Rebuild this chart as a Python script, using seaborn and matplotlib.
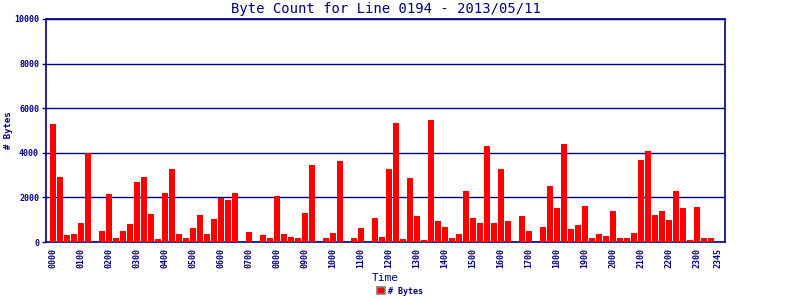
import matplotlib
matplotlib.use("Agg")
import matplotlib.pyplot as plt
import seaborn as sns
import pandas as pd
from matplotlib.patches import Patch

times = [f"{h:02d}{m:02d}" for h in range(24) for m in (0, 15, 30, 45)]
byte_counts = [
    5280, 2895, 330, 375, 870, 4005, 0, 510, 2175, 195, 510, 825, 2715, 2895, 1275, 150,
    2220, 3255, 375, 195, 645, 1230, 375, 1050, 1995, 1905, 2220, 0, 465, 0, 330, 195,
    2085, 375, 240, 195, 1320, 3435, 0, 195, 420, 3615, 0, 195, 645, 0, 1095, 240,
    3255, 5325, 150, 2850, 1185, 105, 5460, 960, 690, 195, 375, 2310, 1095, 870,
    4290, 870, 3255, 960, 0, 1185, 510, 0, 690, 2535, 1545, 4380, 600, 780, 1635, 195,
    375, 285, 1410, 195, 195, 420, 3660, 4065, 1230, 1410, 1005, 2310, 1545, 105, 1590, 195,
    195, 0,
]
tick_labels = [f"{h:02d}00" for h in range(24)] + ["2345"]
title = "Byte Count for Line 0194 - 2013/05/11"

navy = "#000080"
df = pd.DataFrame({"Time": times, "Bytes": byte_counts})

sns.set_style("white")
plt.rcParams["font.family"] = ["DejaVu Sans Mono", "DejaVu Sans"]

fig = plt.figure(figsize=(8, 3), dpi=100)
ax = fig.add_axes([0.0575, 0.193, 0.8488, 0.744])

sns.barplot(data=df, x="Time", y="Bytes", color="#ff0000", saturation=1,
            width=0.86, linewidth=0, edgecolor="none", ax=ax, zorder=3)

ax.set_xlim(-1, 96)
ax.set_ylim(0, 10000)
ax.set_yticks([0, 2000, 4000, 6000, 8000, 10000])
ax.set_yticklabels(["0", "2000", "4000", "6000", "8000", "10000"],
                   fontsize=6, fontweight="bold", color=navy)
tick_pos = [times.index(t) for t in tick_labels]
ax.set_xticks(tick_pos)
ax.set_xticklabels(tick_labels, rotation=90, fontsize=6, fontweight="bold", color=navy)
ax.tick_params(axis="y", length=3, color=navy, width=1, pad=2, left=True)
ax.tick_params(axis="x", length=0, pad=4)
ax.grid(axis="y", color=navy, linewidth=1, zorder=1)
ax.grid(axis="x", visible=False)
for s in ax.spines.values():
    s.set_color(navy)
    s.set_linewidth(1.2)
    s.set_visible(True)

ax.set_title(title, color=navy, fontsize=10, pad=4)
ax.set_xlabel("Time", color=navy, fontsize=8, labelpad=4)
ax.set_ylabel("# Bytes", color=navy, fontsize=6.5, fontweight="bold")
ax.yaxis.set_label_coords(-0.049, 0.5)

handle = Patch(facecolor="#ff0000", edgecolor="#808080", linewidth=1.2, label="# Bytes")
leg = fig.legend(handles=[handle], loc="lower center", bbox_to_anchor=(0.5, -0.01),
                 frameon=False, fontsize=6, handlelength=1.0, handleheight=0.9,
                 handletextpad=0.4)
for t in leg.get_texts():
    t.set_color(navy)
    t.set_fontweight("bold")

fig.savefig("out.png", dpi=100)
